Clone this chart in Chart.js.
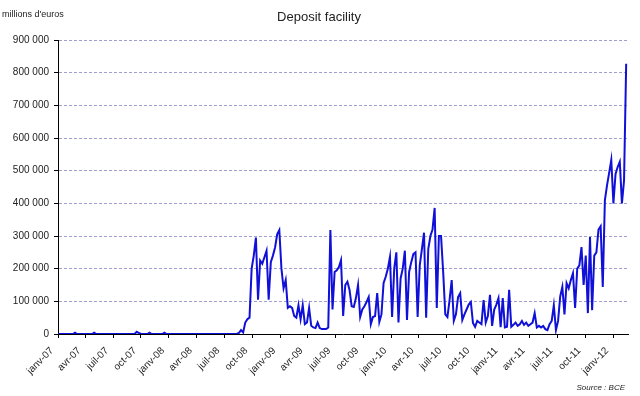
<!DOCTYPE html>
<html>
<head>
<meta charset="utf-8">
<title>Deposit facility</title>
<script src="https://cdn.jsdelivr.net/npm/chart.js@4.4.1/dist/chart.umd.min.js"></script>
<style>
  html, body { margin: 0; padding: 0; background: #fff; }
</style>
</head>
<body>
<canvas id="chart-deposit" width="640" height="396"></canvas>
<script>
// weekly readings, millions d'euros, first week starting 1 Jan 2007
const seriesStart = Date.UTC(2007, 0, 1);
const axisEnd = Date.UTC(2012, 1, 19);

const deposits2007to2008 = [
  0, 0, 0, 0, 0, 0, 0, 0, 4000, 0, 0, 0, 0, 0, 0, 0, 0, 4000, 0, 0,
  0, 0, 0, 0, 0, 0, 0, 0, 0, 0, 0, 0, 0, 0, 0, 0, 0, 7000, 3000, 0,
  0, 0, 0, 4000, 0, 0, 0, 0, 0, 0, 4000, 0, 0, 0, 0, 0, 0, 0, 0, 0,
  0, 0, 0, 0, 0, 0, 0, 0, 0, 0, 0, 0, 0, 0, 0, 0, 0, 0, 0, 0,
  0, 0, 0, 0, 0, 3000, 12000, 5000, 35000, 45000, 50000, 200000, 240000, 295000, 105000,
  225000, 215000, 235000, 255000, 105000, 220000, 240000, 265000, 305000, 318000
];
const deposits2009 = [
  200000, 140000, 165000, 80000, 85000, 80000, 55000, 50000, 88000, 45000,
  88000, 30000, 35000, 80000, 25000, 20000, 18000, 35000, 18000, 15000,
  15000, 15000, 20000, 318000, 75000, 190000, 195000, 205000, 226000, 55000,
  150000, 160000, 135000, 85000, 83000, 110000, 150000, 52000, 75000, 85000,
  98000, 113000, 30000, 52000, 55000, 125000, 37000, 60000, 156000, 175000,
  200000, 236000
];
const deposits2010 = [
  52000, 200000, 250000, 35000, 170000, 200000, 255000, 43000, 190000, 220000,
  245000, 250000, 52000, 210000, 260000, 310000, 50000, 260000, 300000, 320000,
  386000, 80000, 300000, 300000, 190000, 60000, 52000, 104000, 165000, 40000,
  60000, 113000, 125000, 43000, 60000, 75000, 90000, 98000, 34000, 22000,
  40000, 35000, 30000
];
const deposits2011to2012 = [
  104000, 35000, 55000, 120000, 25000, 75000, 90000, 110000, 21000, 110000,
  20000, 22000, 135000, 22000, 28000, 35000, 25000, 30000, 40000, 28000,
  35000, 25000, 30000, 35000, 64000, 20000, 25000, 20000, 25000, 15000,
  12000, 30000, 40000, 88000, 12000, 40000, 115000, 144000, 60000, 156000,
  140000, 165000, 186000, 80000, 200000, 210000, 266000, 150000, 240000, 64000,
  297000, 73000, 240000, 250000, 320000, 330000, 144000, 410000, 455000, 493000,
  533000, 400000, 490000, 511000, 527000, 400000, 470000, 827000
];
const weeklyDeposits = [].concat(deposits2007to2008, deposits2009, deposits2010, deposits2011to2012);

const tickLabels = [
  'janv-07', 'avr-07', 'juil-07', 'oct-07',
  'janv-08', 'avr-08', 'juil-08', 'oct-08',
  'janv-09', 'avr-09', 'juil-09', 'oct-09',
  'janv-10', 'avr-10', 'juil-10', 'oct-10',
  'janv-11', 'avr-11', 'juil-11', 'oct-11',
  'janv-12'
];

const DAY = 86400000;
const font = "'Liberation Sans', Arial, sans-serif";

const points = weeklyDeposits.map((v, i) => ({ x: i * 7, y: v }));
const tickDays = tickLabels.map((lbl, i) =>
  (Date.UTC(2007 + Math.floor(i / 4), (i % 4) * 3, 1) - seriesStart) / DAY
);

function spaced(v) {
  return String(v).replace(/\B(?=(\d{3})+(?!\d))/g, ' ');
}

const captions = {
  id: 'captions',
  afterDraw(chart) {
    const c = chart.ctx;
    c.save();
    c.fillStyle = '#222';
    c.textBaseline = 'middle';
    c.font = '13px ' + font;
    c.textAlign = 'center';
    c.fillText('Deposit facility', 319, 17);
    c.font = '9px ' + font;
    c.textAlign = 'left';
    c.fillText("millions d'euros", 2, 15);
    c.font = 'italic 8px ' + font;
    c.textAlign = 'right';
    c.fillText('Source : BCE', 625, 388);
    c.restore();
  }
};

const ctx = document.getElementById('chart-deposit').getContext('2d');
new Chart(ctx, {
  type: 'line',
  data: {
    datasets: [{
      label: 'Deposit facility',
      data: points,
      borderColor: '#1010d8',
      borderWidth: 2,
      pointRadius: 0,
      tension: 0,
      fill: false
    }]
  },
  options: {
    responsive: false,
    animation: false,
    devicePixelRatio: 1,
    layout: { padding: { top: 40, right: 12, left: 0, bottom: 0 } },
    plugins: {
      legend: { display: false },
      tooltip: { enabled: false }
    },
    scales: {
      x: {
        type: 'linear',
        min: 0,
        max: (axisEnd - seriesStart) / DAY,
        afterBuildTicks: (s) => { s.ticks = tickDays.map((d) => ({ value: d })); },
        afterFit: (s) => { s.height = 62; },
        ticks: {
          autoSkip: false,
          maxRotation: 45,
          minRotation: 45,
          padding: 7,
          labelOffset: -6,
          color: '#222',
          font: { family: font, size: 10 },
          callback: (v, i) => tickLabels[i]
        },
        grid: { drawOnChartArea: false, tickLength: 4, tickColor: '#000' },
        border: { color: '#000', width: 1 }
      },
      y: {
        min: 0,
        max: 900000,
        afterFit: (s) => { s.width = 58; },
        ticks: {
          stepSize: 100000,
          padding: 5,
          color: '#222',
          font: { family: font, size: 10 },
          callback: (v) => spaced(v)
        },
        grid: { color: '#a0a0d0', lineWidth: 1, tickLength: 4, tickColor: '#000', tickBorderDash: [] },
        border: { color: '#000', width: 1, dash: [3, 2] }
      }
    }
  },
  plugins: [captions]
});
</script>
</body>
</html>
